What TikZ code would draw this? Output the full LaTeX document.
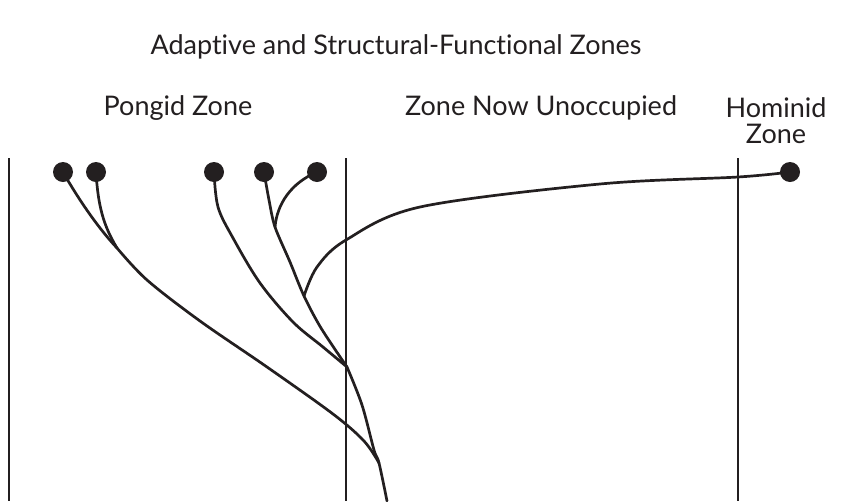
\documentclass[tikz,border=0pt]{standalone}
\usepackage{fontspec}
\setmainfont{Lato}[Ligatures={NoCommon,NoRequired,NoContextual}]
\definecolor{ink}{HTML}{231F20}
\begin{document}
\begin{tikzpicture}[x=1pt,y=-1pt,
  zoneline/.style={draw=ink,line width=2.7pt},
  branch/.style={draw=ink,line width=2.7pt,line cap=round},
  taxon/.style={circle,fill=ink,inner sep=0pt,minimum size=20pt},
  label/.style={text=ink,font=\fontsize{27}{26}\selectfont,align=center,inner sep=0pt}]
\useasboundingbox (0,0) rectangle (842,501);

% headings
\node[label] (title) at (396,47) {Adaptive and Structural-Functional Zones};
\node[label] (pongid) at (178,108) {Pongid Zone};
\node[label] (empty) at (541,108) {Zone Now Unoccupied};
\node[label] (hominid) at (776,121) {Hominid\\Zone};

% zone boundaries
\coordinate (b1t) at (9,158);   \coordinate (b1b) at (9,501);
\coordinate (b2t) at (346,158); \coordinate (b2b) at (346,501);
\coordinate (b3t) at (738,158); \coordinate (b3b) at (738,501);
\draw[zoneline] (b1t) -- (b1b);
\draw[zoneline] (b2t) -- (b2b);
\draw[zoneline] (b3t) -- (b3b);

% living forms
\node[taxon] (d1) at (63,172) {};
\node[taxon] (d2) at (96,172) {};
\node[taxon] (d3) at (214,172) {};
\node[taxon] (d4) at (264,172) {};
\node[taxon] (d5) at (317,172) {};
\node[taxon] (dh) at (790,172) {};

% branching points
\coordinate (j1) at (117,248);
\coordinate (j2) at (347,367);
\coordinate (j3) at (275,227);
\coordinate (j4) at (304,296);
\coordinate (t1) at (379,463);
\coordinate (root) at (387,501);

% lineages
\draw[branch] (d1.center) .. controls (80,202) and (100,230) .. (j1);
\draw[branch] (d2.center) .. controls (98,205) and (103,225) .. (j1);
\draw[branch] plot[smooth,tension=0.55] coordinates
  {(j1) (147,280) (200,321) (267,367) (333,414) (364,441) (t1)};
\draw[branch] plot[smooth,tension=0.55] coordinates
  {(d3.center) (218,207) (233,238) (260,283) (293,322) (323,347) (j2)};
\draw[branch] plot[smooth,tension=0.5] coordinates
  {(d4.center) (269,200) (j3) (290,262) (j4) (321,328) (j2)};
\draw[branch] (d5.center) .. controls (291,183) and (277,204) .. (j3);
\draw[branch] plot[smooth,tension=0.55] coordinates
  {(dh.center) (738,177) (600,184) (420,207) (346,240) (317,267) (j4)};
\draw[branch] plot[smooth,tension=0.55] coordinates
  {(j2) (362,405) (374,450) (t1) (root)};
\end{tikzpicture}
\end{document}
